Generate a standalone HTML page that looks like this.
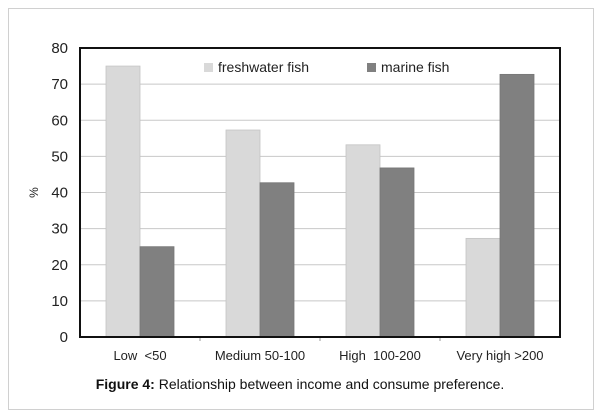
<!DOCTYPE html>
<html><head><meta charset="utf-8"><style>
body{margin:0;background:#fff;width:600px;height:419px;overflow:hidden;font-family:"Liberation Sans",Arial,sans-serif}
.card{position:absolute;left:8px;top:8px;width:586px;height:402px;border:1px solid #d0d0d0;box-sizing:border-box}
.cap{position:absolute;left:0;width:600px;top:376px;text-align:center;font-size:14px;color:#111}
svg text{white-space:pre}
</style></head><body>
<div class="card"></div>
<svg id="chart" width="600" height="419" style="position:absolute;left:0;top:0"></svg>
<div class="cap"><b>Figure 4:</b> Relationship between income and consume preference.</div>
<script>
const categories=["Low  <50","Medium 50-100","High  100-200","Very high >200"];
const freshwater=[75,57.3,53.2,27.3];
const marine=[25,42.7,46.8,72.7];
const yTicks=[0,10,20,30,40,50,60,70,80];
const seriesNames=["freshwater fish","marine fish"];
const svg=document.getElementById('chart');
const NS='http://www.w3.org/2000/svg';
const L=80,R=560,T=48,B=337;
const y=v=>B-(v/80)*(B-T);
const cw=(R-L)/categories.length;
const x=i=>L+i*cw;
function mk(tag,attrs,text){const e=document.createElementNS(NS,tag);for(const k in attrs)e.setAttribute(k,attrs[k]);if(text!==undefined)e.textContent=text;svg.appendChild(e);return e;}
yTicks.forEach(t=>{
  if(t>0&&t<80){const g=mk('line',{x1:L,x2:R,y1:y(t),y2:y(t),stroke:'#c8c8c8','stroke-width':1});
  
  }
  const lb=mk('text',{x:L-12,y:y(t)+5,'text-anchor':'end','font-size':15,fill:'#222'},String(t));
  
  
});
const yt=mk('text',{x:0,y:0,transform:`translate(38,${(T+B)/2}) rotate(-90)`,'text-anchor':'middle','font-size':12,fill:'#222'},'%');


const bw=34;
categories.forEach((c,i)=>{
  const cx=x(i)+cw/2;
  const b1=mk('rect',{x:cx-bw,y:y(freshwater[i]),width:bw,height:B-y(freshwater[i]),fill:'#d9d9d9',stroke:'#c4c4c4','stroke-width':0.8});
  
  
  const b2=mk('rect',{x:cx,y:y(marine[i]),width:bw,height:B-y(marine[i]),fill:'#808080',stroke:'#777','stroke-width':0.8});
  
  
  const lb=mk('text',{x:cx,y:360,'text-anchor':'middle','font-size':13,fill:'#222'},c);
  
  
  if(i>0){const tk=mk('line',{x1:x(i),x2:x(i),y1:B,y2:B+4,stroke:'#999'});
  
  }
});
const fr=mk('rect',{x:L,y:T,width:R-L,height:B-T,fill:'none',stroke:'#111','stroke-width':2});


const lx=[204,367],cols=['#d9d9d9','#808080'];
seriesNames.forEach((n,i)=>{
  const s=mk('rect',{x:lx[i],y:63,width:9,height:9,fill:cols[i]});
  
  
  const t=mk('text',{x:lx[i]+14,y:72,'font-size':14,fill:'#222'},n);
  
  
});
</script>
</body></html>
